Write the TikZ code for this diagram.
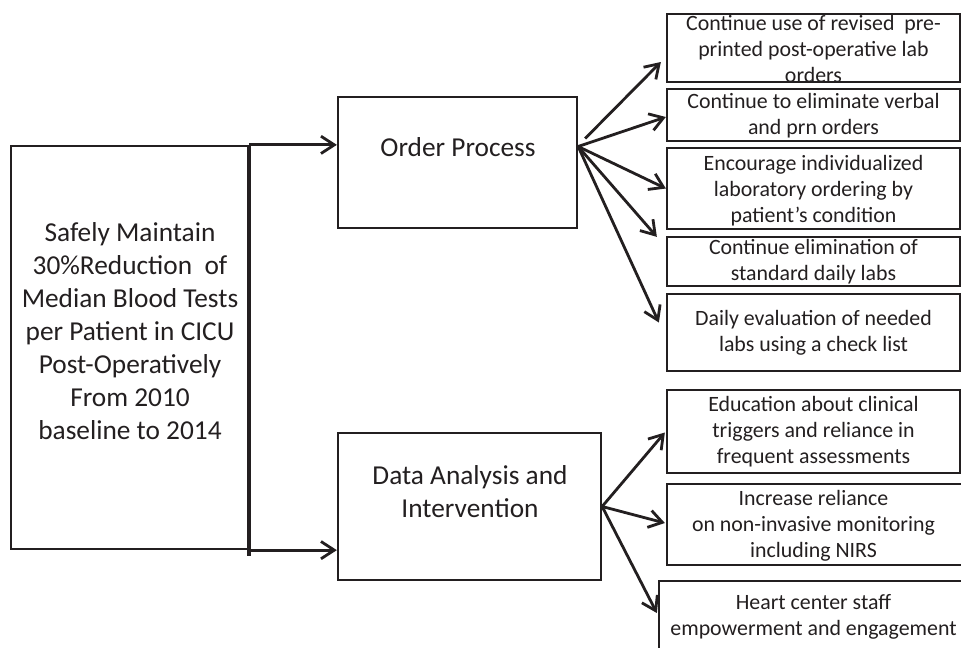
\documentclass[tikz,border=0pt]{standalone}
\usepackage{fontspec}
\setmainfont{Carlito}
\usetikzlibrary{arrows.meta,calc}
\definecolor{ink}{HTML}{231F20}
\begin{document}
\begin{tikzpicture}[x=0.75pt,y=-0.75pt,
  pxbox/.style 2 args={draw=ink,line width=1.7pt,minimum width=#1*0.75pt,minimum height=#2*0.75pt,inner sep=0pt},
  bigtxt/.style={text=ink,align=center,font=\fontsize{20.5}{24.75}\selectfont,inner sep=0pt},
  smalltxt/.style={text=ink,align=center,font=\fontsize{16.4}{19.5}\selectfont,inner sep=0pt},
  arr/.style={draw=ink,line width=2.1pt,-{Straight Barb[length=10pt,width=13pt,line width=2.1pt]}},
  spine/.style={draw=ink,line width=3pt}]
\useasboundingbox (0,0) rectangle (961,647);
\clip (0,0) rectangle (961,647);
% boxes
\node[pxbox={237}{403}] (goal) at (129.5,347.5) {};
\node[pxbox={239}{131}] (op) at (457.5,162.5) {};
\node[pxbox={263}{147}] (da) at (469.5,506.5) {};
\node[pxbox={293}{68}] (b1) at (813.5,48) {};
\node[pxbox={293}{52}] (b2) at (813.5,115) {};
\node[pxbox={293}{81}] (b3) at (813.5,188.5) {};
\node[pxbox={293}{49}] (b4) at (813.5,261.5) {};
\node[pxbox={293}{77}] (b5) at (813.5,332.5) {};
\node[pxbox={293}{83}] (b6) at (813.5,431.5) {};
\node[pxbox={308}{81}] (b7) at (821,524.5) {};
\node[pxbox={321}{79}] (b8) at (819.5,620.5) {};
% texts
\node[bigtxt] (tgoal) at (130,331.5) {Safely Maintain\\30\%Reduction~~of\\Median Blood Tests\\per Patient in CICU\\Post-Operatively\\From 2010\\baseline to 2014};
\node[bigtxt] (top) at (458,147) {Order Process};
\node[bigtxt] (tda) at (470,492) {Data Analysis and\\Intervention};
\node[smalltxt] (t1) at (813.5,49) {Continue use of revised~~pre-\\printed post-operative lab\\orders};
\node[smalltxt] (t2) at (813.5,116) {Continue to eliminate verbal\\and prn orders};
\node[smalltxt] (t3) at (813.5,191) {Encourage individualized\\laboratory ordering by\\patient’s condition};
\node[smalltxt] (t4) at (813.5,262) {Continue elimination of\\standard daily labs};
\node[smalltxt] (t5) at (813.5,333) {Daily evaluation of needed\\labs using a check list};
\node[smalltxt] (t6) at (813.5,432) {Education about clinical\\triggers and reliance in\\frequent assessments};
\node[smalltxt] (t7) at (813.5,526) {Increase reliance\\on non-invasive monitoring\\including NIRS};
\node[smalltxt] (t8) at (813.5,617) {Heart center staff\\empowerment and engagement};
% spine and main arrows
\draw[spine] (goal.north east) -- ($(goal.south east)+(0,6)$);
\draw[arr] (goal.north east) -- (goal.north east -| op.west);
\draw[arr] (goal.south east) -- (goal.south east -| da.west);
% branch origins
\coordinate (opout) at ($(op.east)+(0,-16)$);
\coordinate (opout1) at ($(op.east)+(7,-24)$);
\coordinate (daout) at (da.east);
\draw[arr] (opout1) -- ($(b1.west)+(-5,14)$);
\draw[arr] (opout) -- ($(b2.west)+(0,2)$);
\draw[arr] (opout) -- (b3.west);
\draw[arr] (opout) -- ($(b4.north west)+(-9,1)$);
\draw[arr] (opout) -- ($(b5.west)+(-7,-10)$);
\draw[arr] (daout) -- ($(b6.west)+(-1,1)$);
\draw[arr] (daout) -- ($(b7.west)+(-1,-1.5)$);
\draw[arr] (daout) -- ($(b8.west)+(-1,-7.5)$);
\end{tikzpicture}
\end{document}
